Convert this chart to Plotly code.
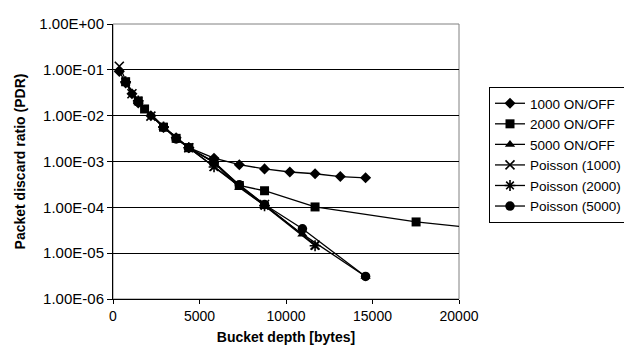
import plotly.graph_objects as go

# ---- data ----
x_1000_onoff = [365, 730, 1095, 1460, 2190, 2920, 3650, 4380, 5840, 7300, 8760, 10220, 11680, 13140, 14600]
y_1000_onoff = [0.092, 0.052, 0.030, 0.019, 0.0100, 0.0055, 0.0033, 0.0020, 0.00118, 0.00085, 0.00069, 0.00059, 0.00054, 0.00047, 0.00044]

x_2000_onoff = [730, 1460, 1825, 2920, 3650, 4380, 5840, 7300, 8760, 11680, 17520, 20440]
y_2000_onoff = [0.055, 0.021, 0.014, 0.0056, 0.0032, 0.0020, 0.00098, 0.00030, 0.00023, 0.000102, 0.000048, 0.000037]

x_5000_onoff = [1460, 2920, 4380, 5840, 7300, 8760, 10950, 14600]
y_5000_onoff = [0.020, 0.0055, 0.0020, 0.00095, 0.00027, 0.000110, 0.000026, 0.0000031]

x_poisson_1000 = [365, 1095, 2190, 4380, 5840, 8760, 11680]
y_poisson_1000 = [0.12, 0.030, 0.0098, 0.0020, 0.00078, 0.000115, 0.0000150]

x_poisson_2000 = [730, 1460, 2920, 4380, 5840, 8760, 11680]
y_poisson_2000 = [0.055, 0.021, 0.0057, 0.0020, 0.00076, 0.000108, 0.0000145]

x_poisson_5000 = [1460, 2920, 3650, 4380, 5840, 7300, 8760, 10950, 14600]
y_poisson_5000 = [0.020, 0.0056, 0.0031, 0.0020, 0.00095, 0.00031, 0.000115, 0.000034, 0.0000031]

y_tick_vals = [1e-6, 1e-5, 1e-4, 1e-3, 1e-2, 1e-1, 1e0]
y_tick_text = ["1.00E-06", "1.00E-05", "1.00E-04", "1.00E-03", "1.00E-02", "1.00E-01", "1.00E+00"]
x_tick_vals = [0, 5000, 10000, 15000, 20000]

FONT = "Liberation Sans, Arial, sans-serif"

series = [
    ("1000 ON/OFF", x_1000_onoff, y_1000_onoff, dict(symbol="diamond", size=8.5, color="black")),
    ("2000 ON/OFF", x_2000_onoff, y_2000_onoff, dict(symbol="square", size=9, color="black")),
    ("5000 ON/OFF", x_5000_onoff, y_5000_onoff, dict(symbol="triangle-up", size=9, color="black")),
    ("Poisson (1000)", x_poisson_1000, y_poisson_1000,
     dict(symbol="x-thin-open", size=9, color="black", line=dict(color="black", width=1.6))),
    ("Poisson (2000)", x_poisson_2000, y_poisson_2000,
     dict(symbol="asterisk-open", size=9, color="black", line=dict(color="black", width=1.6))),
    ("Poisson (5000)", x_poisson_5000, y_poisson_5000, dict(symbol="circle", size=9.5, color="black")),
]

fig = go.Figure()
for name, xs, ys, mk in series:
    fig.add_trace(go.Scatter(
        x=xs, y=ys, name=name, mode="lines+markers",
        line=dict(color="black", width=1.3),
        marker=mk,
    ))

# gray plot-area border (top/right)
fig.add_shape(type="rect", xref="paper", yref="paper", x0=0, y0=0, x1=1, y1=1,
              line=dict(color="#808080", width=1), layer="below")

fig.update_layout(
    width=632, height=347,
    margin=dict(l=105, r=181, t=16, b=56, autoexpand=False),
    paper_bgcolor="white", plot_bgcolor="white",
    font=dict(family=FONT, size=14, color="black"),
    showlegend=True,
    legend=dict(
        x=(481 - 105) / 346, xanchor="left",
        y=(291 - 79) / 275, yanchor="top",
        bordercolor="black", borderwidth=1,
        font=dict(family=FONT, size=13.5, color="black"),
        tracegroupgap=0, itemwidth=30,
    ),
)

fig.update_xaxes(
    range=[0, 20000], tickvals=x_tick_vals, tickformat="d",
    showgrid=False, zeroline=False,
    showline=True, linecolor="black", linewidth=1,
    ticks="outside", ticklen=4, tickcolor="black",
    tickfont=dict(family=FONT, size=14, color="black"),
    title=dict(text="<b>Bucket depth [bytes]</b>", font=dict(family=FONT, size=14, color="black"), standoff=9),
)
fig.update_yaxes(
    type="log", range=[-6, 0],
    tickvals=y_tick_vals, ticktext=y_tick_text,
    showgrid=True, gridcolor="black", gridwidth=1,
    zeroline=False,
    showline=True, linecolor="black", linewidth=1,
    ticks="outside", ticklen=5, tickcolor="black",
    tickfont=dict(family=FONT, size=15, color="black"),
    title=dict(text="<b>Packet discard ratio (PDR)</b>", font=dict(family=FONT, size=14, color="black"), standoff=10),
)

fig.write_html("out.html")
